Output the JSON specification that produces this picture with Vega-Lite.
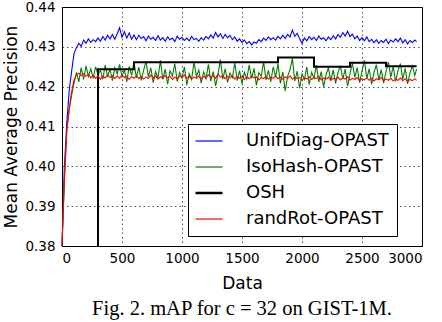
{
"$schema": "https://vega.github.io/schema/vega-lite/v6.json",
"autosize": {"type": "none"},
"padding": {"left": 62, "top": 7, "right": 20, "bottom": 76},
"width": 360,
"height": 239,
"background": "white",
"title": {"text": "Fig. 2. mAP for c = 32 on GIST-1M.", "orient": "bottom", "font": "Liberation Serif", "fontSize": 20.5, "fontWeight": "normal", "color": "black", "offset": 7, "anchor": "middle"},
"config": {
  "view": {"stroke": "black", "strokeWidth": 1},
  "axis": {"labelFont": "DejaVu Sans", "labelFontSize": 13.5, "labelColor": "black", "titleFont": "DejaVu Sans", "titleFontSize": 17, "titleFontWeight": "normal", "titleColor": "black", "domainColor": "black", "ticks": false, "gridColor": "black", "gridOpacity": 0.7, "gridDash": [1.5, 3], "gridWidth": 1, "labelOverlap": false}
},
"datasets": {
  "curves": [
{"x":0,"u":0.3800,"g":0.3800,"r":0.3800},
{"x":20,"u":0.4000,"g":0.3965,"r":0.3970},
{"x":40,"u":0.4110,"g":0.4090,"r":0.4090},
{"x":60,"u":0.4190,"g":0.4142,"r":0.4145},
{"x":80,"u":0.4238,"g":0.4178,"r":0.4187},
{"x":100,"u":0.4283,"g":0.4208,"r":0.4216},
{"x":120,"u":0.4298,"g":0.4236,"r":0.4229},
{"x":140,"u":0.4309,"g":0.4212,"r":0.4234},
{"x":160,"u":0.4301,"g":0.4248,"r":0.4228},
{"x":180,"u":0.4317,"g":0.4218,"r":0.4233},
{"x":200,"u":0.4309,"g":0.4252,"r":0.4226},
{"x":220,"u":0.4320,"g":0.4226,"r":0.4231},
{"x":240,"u":0.4311,"g":0.4245,"r":0.4222},
{"x":260,"u":0.4318,"g":0.4221,"r":0.4229},
{"x":280,"u":0.4313,"g":0.4250,"r":0.4221},
{"x":300,"u":0.4322,"g":0.4230,"r":0.4227},
{"x":320,"u":0.4314,"g":0.4241,"r":0.4219},
{"x":340,"u":0.4326,"g":0.4219,"r":0.4226},
{"x":360,"u":0.4317,"g":0.4254,"r":0.4222},
{"x":380,"u":0.4329,"g":0.4227,"r":0.4230},
{"x":400,"u":0.4320,"g":0.4244,"r":0.4223},
{"x":420,"u":0.4331,"g":0.4215,"r":0.4228},
{"x":440,"u":0.4319,"g":0.4248,"r":0.4220},
{"x":460,"u":0.4333,"g":0.4232,"r":0.4227},
{"x":480,"u":0.4348,"g":0.4256,"r":0.4221},
{"x":500,"u":0.4324,"g":0.4225,"r":0.4229},
{"x":520,"u":0.4338,"g":0.4243,"r":0.4223},
{"x":540,"u":0.4322,"g":0.4212,"r":0.4226},
{"x":560,"u":0.4335,"g":0.4251,"r":0.4218},
{"x":580,"u":0.4319,"g":0.4228,"r":0.4225},
{"x":600,"u":0.4330,"g":0.4262,"r":0.4221},
{"x":620,"u":0.4318,"g":0.4222,"r":0.4228},
{"x":640,"u":0.4329,"g":0.4249,"r":0.4220},
{"x":660,"u":0.4321,"g":0.4216,"r":0.4226},
{"x":680,"u":0.4326,"g":0.4241,"r":0.4219},
{"x":700,"u":0.4315,"g":0.4264,"r":0.4224},
{"x":720,"u":0.4327,"g":0.4225,"r":0.4221},
{"x":740,"u":0.4319,"g":0.4247,"r":0.4229},
{"x":760,"u":0.4324,"g":0.4210,"r":0.4222},
{"x":780,"u":0.4316,"g":0.4238,"r":0.4227},
{"x":800,"u":0.4328,"g":0.4221,"r":0.4219},
{"x":820,"u":0.4317,"g":0.4266,"r":0.4225},
{"x":840,"u":0.4323,"g":0.4218,"r":0.4221},
{"x":860,"u":0.4314,"g":0.4244,"r":0.4228},
{"x":880,"u":0.4325,"g":0.4206,"r":0.4222},
{"x":900,"u":0.4318,"g":0.4240,"r":0.4226},
{"x":920,"u":0.4322,"g":0.4227,"r":0.4218},
{"x":940,"u":0.4313,"g":0.4258,"r":0.4224},
{"x":960,"u":0.4327,"g":0.4213,"r":0.4220},
{"x":980,"u":0.4319,"g":0.4236,"r":0.4227},
{"x":1000,"u":0.4324,"g":0.4222,"r":0.4223},
{"x":1020,"u":0.4316,"g":0.4250,"r":0.4229},
{"x":1040,"u":0.4322,"g":0.4204,"r":0.4221},
{"x":1060,"u":0.4315,"g":0.4233,"r":0.4226},
{"x":1080,"u":0.4326,"g":0.4218,"r":0.4219},
{"x":1100,"u":0.4318,"g":0.4262,"r":0.4224},
{"x":1120,"u":0.4321,"g":0.4226,"r":0.4221},
{"x":1140,"u":0.4314,"g":0.4242,"r":0.4227},
{"x":1160,"u":0.4323,"g":0.4209,"r":0.4220},
{"x":1180,"u":0.4317,"g":0.4237,"r":0.4225},
{"x":1200,"u":0.4326,"g":0.4220,"r":0.4222},
{"x":1220,"u":0.4320,"g":0.4256,"r":0.4230},
{"x":1240,"u":0.4330,"g":0.4214,"r":0.4223},
{"x":1260,"u":0.4322,"g":0.4238,"r":0.4228},
{"x":1280,"u":0.4336,"g":0.4202,"r":0.4221},
{"x":1300,"u":0.4325,"g":0.4231,"r":0.4232},
{"x":1320,"u":0.4333,"g":0.4268,"r":0.4224},
{"x":1340,"u":0.4321,"g":0.4219,"r":0.4227},
{"x":1360,"u":0.4331,"g":0.4245,"r":0.4220},
{"x":1380,"u":0.4323,"g":0.4211,"r":0.4226},
{"x":1400,"u":0.4329,"g":0.4234,"r":0.4222},
{"x":1420,"u":0.4318,"g":0.4223,"r":0.4228},
{"x":1440,"u":0.4325,"g":0.4260,"r":0.4219},
{"x":1460,"u":0.4314,"g":0.4215,"r":0.4225},
{"x":1480,"u":0.4320,"g":0.4240,"r":0.4221},
{"x":1500,"u":0.4311,"g":0.4207,"r":0.4226},
{"x":1520,"u":0.4317,"g":0.4236,"r":0.4218},
{"x":1540,"u":0.4308,"g":0.4219,"r":0.4224},
{"x":1560,"u":0.4313,"g":0.4255,"r":0.4220},
{"x":1580,"u":0.4305,"g":0.4221,"r":0.4227},
{"x":1600,"u":0.4312,"g":0.4246,"r":0.4222},
{"x":1620,"u":0.4309,"g":0.4203,"r":0.4225},
{"x":1640,"u":0.4318,"g":0.4235,"r":0.4217},
{"x":1660,"u":0.4313,"g":0.4226,"r":0.4223},
{"x":1680,"u":0.4322,"g":0.4263,"r":0.4220},
{"x":1700,"u":0.4316,"g":0.4217,"r":0.4226},
{"x":1720,"u":0.4325,"g":0.4241,"r":0.4219},
{"x":1740,"u":0.4318,"g":0.4212,"r":0.4224},
{"x":1760,"u":0.4323,"g":0.4250,"r":0.4221},
{"x":1780,"u":0.4317,"g":0.4224,"r":0.4227},
{"x":1800,"u":0.4326,"g":0.4258,"r":0.4220},
{"x":1820,"u":0.4320,"g":0.4208,"r":0.4224},
{"x":1840,"u":0.4329,"g":0.4237,"r":0.4218},
{"x":1860,"u":0.4321,"g":0.4189,"r":0.4225},
{"x":1880,"u":0.4331,"g":0.4226,"r":0.4221},
{"x":1900,"u":0.4325,"g":0.4243,"r":0.4227},
{"x":1920,"u":0.4342,"g":0.4271,"r":0.4219},
{"x":1940,"u":0.4326,"g":0.4214,"r":0.4224},
{"x":1960,"u":0.4334,"g":0.4239,"r":0.4220},
{"x":1980,"u":0.4320,"g":0.4196,"r":0.4223},
{"x":2000,"u":0.4309,"g":0.4232,"r":0.4216},
{"x":2020,"u":0.4322,"g":0.4218,"r":0.4222},
{"x":2040,"u":0.4315,"g":0.4249,"r":0.4219},
{"x":2060,"u":0.4326,"g":0.4205,"r":0.4225},
{"x":2080,"u":0.4318,"g":0.4236,"r":0.4218},
{"x":2100,"u":0.4324,"g":0.4221,"r":0.4223},
{"x":2120,"u":0.4316,"g":0.4254,"r":0.4220},
{"x":2140,"u":0.4327,"g":0.4212,"r":0.4226},
{"x":2160,"u":0.4319,"g":0.4238,"r":0.4217},
{"x":2180,"u":0.4323,"g":0.4199,"r":0.4222},
{"x":2200,"u":0.4315,"g":0.4230,"r":0.4219},
{"x":2220,"u":0.4325,"g":0.4247,"r":0.4224},
{"x":2240,"u":0.4318,"g":0.4215,"r":0.4216},
{"x":2260,"u":0.4328,"g":0.4242,"r":0.4221},
{"x":2280,"u":0.4320,"g":0.4208,"r":0.4218},
{"x":2300,"u":0.4331,"g":0.4235,"r":0.4224},
{"x":2320,"u":0.4324,"g":0.4253,"r":0.4217},
{"x":2340,"u":0.4336,"g":0.4219,"r":0.4222},
{"x":2360,"u":0.4327,"g":0.4244,"r":0.4219},
{"x":2380,"u":0.4339,"g":0.4201,"r":0.4225},
{"x":2400,"u":0.4326,"g":0.4233,"r":0.4216},
{"x":2420,"u":0.4332,"g":0.4259,"r":0.4221},
{"x":2440,"u":0.4320,"g":0.4223,"r":0.4218},
{"x":2460,"u":0.4327,"g":0.4248,"r":0.4223},
{"x":2480,"u":0.4316,"g":0.4210,"r":0.4215},
{"x":2500,"u":0.4323,"g":0.4239,"r":0.4220},
{"x":2520,"u":0.4315,"g":0.4266,"r":0.4217},
{"x":2540,"u":0.4325,"g":0.4220,"r":0.4222},
{"x":2560,"u":0.4313,"g":0.4245,"r":0.4216},
{"x":2580,"u":0.4319,"g":0.4206,"r":0.4221},
{"x":2600,"u":0.4310,"g":0.4236,"r":0.4214},
{"x":2620,"u":0.4318,"g":0.4255,"r":0.4220},
{"x":2640,"u":0.4309,"g":0.4217,"r":0.4217},
{"x":2660,"u":0.4316,"g":0.4243,"r":0.4223},
{"x":2680,"u":0.4311,"g":0.4209,"r":0.4215},
{"x":2700,"u":0.4319,"g":0.4238,"r":0.4219},
{"x":2720,"u":0.4308,"g":0.4262,"r":0.4216},
{"x":2740,"u":0.4317,"g":0.4224,"r":0.4221},
{"x":2760,"u":0.4312,"g":0.4251,"r":0.4214},
{"x":2780,"u":0.4320,"g":0.4213,"r":0.4219},
{"x":2800,"u":0.4313,"g":0.4240,"r":0.4216},
{"x":2820,"u":0.4322,"g":0.4258,"r":0.4222},
{"x":2840,"u":0.4310,"g":0.4219,"r":0.4215},
{"x":2860,"u":0.4318,"g":0.4246,"r":0.4220},
{"x":2880,"u":0.4307,"g":0.4207,"r":0.4213},
{"x":2900,"u":0.4316,"g":0.4235,"r":0.4218},
{"x":2920,"u":0.4311,"g":0.4252,"r":0.4215},
{"x":2940,"u":0.4317,"g":0.4228,"r":0.4220},
{"x":2955,"u":0.4313,"g":0.4244,"r":0.4216}
  ],
  "osh": [
{"i":1,"x":300,"y":0.3800},
{"i":2,"x":300,"y":0.4244},
{"i":3,"x":600,"y":0.4244},
{"i":4,"x":600,"y":0.4261},
{"i":5,"x":1800,"y":0.4261},
{"i":6,"x":1800,"y":0.4273},
{"i":7,"x":2100,"y":0.4273},
{"i":8,"x":2100,"y":0.4250},
{"i":9,"x":2400,"y":0.4250},
{"i":10,"x":2400,"y":0.4260},
{"i":11,"x":2700,"y":0.4260},
{"i":12,"x":2700,"y":0.4251},
{"i":13,"x":2955,"y":0.4251}
  ]
},
"encoding": {
  "x": {"field": "x", "type": "quantitative", "scale": {"domain": [0, 3000], "nice": false}, "axis": {"values": [0, 500, 1000, 1500, 2000, 2500, 3000], "format": "d", "title": "Data", "labelPadding": 5, "titlePadding": 11, "grid": true}},
  "color": {"datum": "UnifDiag-OPAST", "type": "nominal", "scale": {"domain": ["UnifDiag-OPAST", "IsoHash-OPAST", "OSH", "randRot-OPAST"], "range": ["#0000ff", "#008000", "#000000", "#ff0000"]},
    "legend": {"title": null, "orient": "none", "legendX": 126, "legendY": 117, "strokeColor": "black", "fillColor": "white", "padding": 8, "symbolType": "stroke", "symbolSize": 729, "symbolOffset": 4, "symbolStrokeWidth": 1.2, "labelFont": "DejaVu Sans", "labelFontSize": 18, "labelColor": "black", "labelOffset": 28, "rowPadding": 8, "cornerRadius": 0,
      "encode": {"symbols": {"update": {"strokeWidth": {"signal": "datum.value === 'OSH' ? 2.5 : 1.2"}}}}}},
  "y": {"type": "quantitative", "scale": {"domain": [0.38, 0.44], "nice": false}, "axis": {"values": [0.38, 0.39, 0.40, 0.41, 0.42, 0.43, 0.44], "format": ".2f", "title": "Mean Average Precision", "labelPadding": 7, "titlePadding": 4, "grid": true}}
},
"layer": [
  {"data": {"name": "curves"}, "mark": {"type": "line", "strokeWidth": 1.1},
   "encoding": {"y": {"field": "u"}, "color": {"datum": "UnifDiag-OPAST"}}},
  {"data": {"name": "curves"}, "mark": {"type": "line", "strokeWidth": 1.1},
   "encoding": {"y": {"field": "g"}, "color": {"datum": "IsoHash-OPAST"}}},
  {"data": {"name": "osh"}, "mark": {"type": "line", "strokeWidth": 2},
   "encoding": {"y": {"field": "y"}, "order": {"field": "i", "type": "quantitative"}, "color": {"datum": "OSH"}}},
  {"data": {"name": "curves"}, "mark": {"type": "line", "strokeWidth": 1.1},
   "encoding": {"y": {"field": "r"}, "color": {"datum": "randRot-OPAST"}}}
]
}
